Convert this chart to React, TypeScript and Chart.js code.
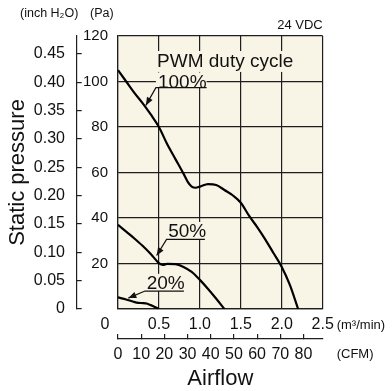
import React, { useEffect, useRef } from 'react';
import { Chart, registerables } from 'chart.js';

Chart.register(...registerables);

// ---- data (m³/min vs Pa) ----
const airflow100 = [0, 0.1, 0.2, 0.3, 0.4, 0.5, 0.6, 0.7, 0.8, 0.85, 0.9, 0.95, 1.0, 1.1, 1.2, 1.3, 1.4, 1.5, 1.6, 1.7, 1.8, 1.9, 2.0, 2.1, 2.2];
const pressure100 = [105, 100, 95, 90.5, 85.5, 80, 72.5, 66, 59.5, 56, 53.8, 53.3, 53.8, 54.9, 54.5, 52.3, 50, 46.7, 41, 36, 30.5, 24.5, 18.5, 10.5, 0];

const airflow50 = [0, 0.1, 0.2, 0.3, 0.4, 0.5, 0.55, 0.6, 0.7, 0.8, 0.9, 1.0, 1.1, 1.2, 1.3];
const pressure50 = [37, 34, 31, 27.8, 24.2, 20.2, 19.4, 19.8, 19.7, 18.5, 16.3, 12.8, 8.8, 4.5, 0];

const airflow20 = [0, 0.1, 0.19, 0.25, 0.3, 0.35, 0.4, 0.45, 0.5];
const pressure20 = [5.1, 4.2, 3.2, 2.7, 2.6, 2.4, 1.7, 0.9, 0];

const dutyLabels = ['100%', '50%', '20%'];
const headerText = 'PWM duty cycle';
const xUnitText = '(m³/min)';
const cfmUnitText = '(CFM)';
const yUnitInch = '(inch H₂O)';
const yUnitPa = '(Pa)';
const voltageText = '24 VDC';
const xTitle = 'Airflow';
const yTitle = 'Static pressure';

const PA_PER_INCH = 249.0889;
const M3MIN_PER_CFM = 0.0283168;
const X_MAX = 2.5;
const PA_MAX = 120;

// annotation layout (in data units)
const labelLayout = [
  { textX: 0.488, textY: 100, x0: 0.463, x1: 1.082, lineY: 97.3, tipX: 0.34, tipY: 89.5 },
  { textX: 0.613, textY: 34.3, x0: 0.593, x1: 1.061, lineY: 30.6, tipX: 0.472, tipY: 23.5 },
  { textX: 0.35, textY: 11.5, x0: 0.329, x1: 0.805, lineY: 7.9, tipX: 0.126, tipY: 4.8 },
];

const BG = '#f8f5e6';
const GRID = '#1e1e1e';
const INK = '#111111';
const NARROW = "'Liberation Sans Narrow', 'Arial Narrow', 'Liberation Sans', Arial, sans-serif";
const SANS = "'Liberation Sans', Arial, Helvetica, sans-serif";

const bgPlugin = {
  id: 'bgPlugin',
  beforeDraw(chart: any) {
    const { ctx, chartArea } = chart;
    ctx.save();
    ctx.fillStyle = BG;
    ctx.fillRect(chartArea.left, chartArea.top, chartArea.right - chartArea.left, chartArea.bottom - chartArea.top);
    ctx.restore();
  },
};

const annotationPlugin = {
  id: 'annotationPlugin',
  afterDatasetsDraw(chart: any) {
    const { ctx } = chart;
    const xs = chart.scales.x;
    const ys = chart.scales.y;
    const px = (v: number) => xs.getPixelForValue(v);
    const py = (v: number) => ys.getPixelForValue(v);
    ctx.save();

    // header box + text
    const hx = px(labelLayout[0].x0);
    ctx.fillStyle = BG;
    ctx.fillRect(hx, py(113.4), px(2.26) - hx, py(104.2) - py(113.4));
    ctx.fillStyle = INK;
    ctx.font = `19px ${SANS}`;
    ctx.textAlign = 'left';
    ctx.textBaseline = 'middle';
    ctx.fillText(headerText, px(0.477), py(109) + 1);

    labelLayout.forEach((l, i) => {
      const x0 = px(l.x0);
      const x1 = px(l.x1);
      const ty = py(l.textY);
      const ly = py(l.lineY);
      ctx.fillStyle = BG;
      ctx.fillRect(x0, ty - 9, x1 - x0, ly - (ty - 9));
      ctx.fillStyle = INK;
      ctx.font = `19px ${SANS}`;
      ctx.textAlign = 'left';
      ctx.textBaseline = 'middle';
      ctx.fillText(dutyLabels[i], px(l.textX), ty + 1);
      // underline + leader
      const tx = px(l.tipX);
      const tyy = py(l.tipY);
      ctx.strokeStyle = INK;
      ctx.lineWidth = 1.2;
      ctx.beginPath();
      ctx.moveTo(x1, ly);
      ctx.lineTo(x0, ly);
      ctx.lineTo(tx, tyy);
      ctx.stroke();
      // arrow head
      const ang = Math.atan2(tyy - ly, tx - x0);
      const len = 8;
      const hw = 3.2;
      const bx = tx - Math.cos(ang) * len;
      const by = tyy - Math.sin(ang) * len;
      ctx.beginPath();
      ctx.moveTo(tx, tyy);
      ctx.lineTo(bx + Math.sin(ang) * hw, by - Math.cos(ang) * hw);
      ctx.lineTo(bx - Math.sin(ang) * hw, by + Math.cos(ang) * hw);
      ctx.closePath();
      ctx.fillStyle = INK;
      ctx.fill();
    });
    ctx.restore();
  },
  afterDraw(chart: any) {
    const { ctx, chartArea } = chart;
    const xs = chart.scales.x;
    const ys = chart.scales.y;
    const cfm = chart.scales.cfm;
    ctx.save();
    ctx.fillStyle = INK;
    ctx.textBaseline = 'middle';
    // shared origin "0"
    ctx.font = `16px ${NARROW}`;
    ctx.textAlign = 'center';
    ctx.fillText('0', xs.getPixelForValue(0) - 13, ys.getPixelForValue(0) + 16);
    // units
    ctx.font = `13px ${SANS}`;
    ctx.textAlign = 'left';
    ctx.fillText(xUnitText, xs.getPixelForValue(X_MAX) + 14, ys.getPixelForValue(0) + 16);
    ctx.fillText(cfmUnitText, xs.getPixelForValue(X_MAX) + 14, cfm.top + 15);
    ctx.font = `12.5px ${SANS}`;
    ctx.fillText(yUnitInch, 20, 14);
    ctx.fillText(yUnitPa, 90, 14);
    ctx.font = `13px ${SANS}`;
    ctx.textAlign = 'right';
    ctx.fillText(voltageText, chartArea.right, chartArea.top - 10.5);
    ctx.restore();
  },
};

export default function App() {
  const ref = useRef<HTMLCanvasElement | null>(null);

  useEffect(() => {
    if (!ref.current) return;
    const mk = (xsArr: number[], ysArr: number[]) => xsArr.map((x, i) => ({ x, y: ysArr[i] }));
    const ds = (data: any) => ({
      data,
      borderColor: '#000',
      borderWidth: 2.2,
      pointRadius: 0,
      fill: false,
      cubicInterpolationMode: 'monotone' as const,
      xAxisID: 'x',
      yAxisID: 'y',
    });
    const tickFont = { family: NARROW, size: 16 };
    const chart = new Chart(ref.current, {
      type: 'line',
      data: {
        datasets: [
          ds(mk(airflow100, pressure100)),
          ds(mk(airflow50, pressure50)),
          ds(mk(airflow20, pressure20)),
        ],
      },
      options: {
        animation: false,
        responsive: false,
        devicePixelRatio: 1,
        maintainAspectRatio: false,
        layout: { padding: { left: 0, top: 36, right: 69.3, bottom: 0 } },
        plugins: { legend: { display: false }, tooltip: { enabled: false }, title: { display: false } },
        scales: {
          x: {
            type: 'linear',
            position: 'bottom',
            weight: 0,
            min: 0,
            max: X_MAX,
            grid: { color: GRID, lineWidth: 1.2, drawTicks: false },
            border: { display: true, color: GRID, width: 1.2 },
            ticks: {
              stepSize: 0.5,
              includeBounds: false,
              padding: 0,
              color: INK,
              font: { ...tickFont, lineHeight: '32px' },
              callback: (v: any) => (Number(v) === 0 ? '' : Number(v).toFixed(1)),
            },
            afterFit: (s: any) => { s.height = 30; },
          },
          cfm: {
            type: 'linear',
            position: 'bottom',
            weight: 1,
            min: 0,
            max: X_MAX / M3MIN_PER_CFM,
            grid: { drawOnChartArea: false, tickLength: -5, color: GRID, lineWidth: 1.2 },
            border: { display: true, color: GRID, width: 1.2 },
            ticks: {
              stepSize: 10,
              includeBounds: false,
              padding: 10.5,
              color: INK,
              font: tickFont,
              callback: (v: any) => String(Math.round(Number(v))),
            },
            title: { display: true, text: xTitle, color: INK, font: { family: SANS, size: 22 }, padding: { top: 0, bottom: -1.5 } },
            afterFit: (s: any) => { s.height = 52; },
          },
          y: {
            type: 'linear',
            position: 'left',
            weight: 0,
            min: 0,
            max: PA_MAX,
            grid: { color: GRID, lineWidth: 1.2, drawTicks: false },
            border: { display: true, color: GRID, width: 1.2 },
            ticks: {
              stepSize: 20,
              includeBounds: false,
              padding: 10,
              color: INK,
              font: { family: NARROW, size: 15 },
              callback: (v: any) => (Number(v) === 0 ? '' : String(v)),
            },
            afterFit: (s: any) => { s.width = 41.3; },
          },
          inch: {
            type: 'linear',
            position: 'left',
            weight: 1,
            min: 0,
            max: PA_MAX / PA_PER_INCH,
            grid: { drawOnChartArea: false, tickLength: -5, color: GRID, lineWidth: 1.2 },
            border: { display: true, color: GRID, width: 1.2 },
            ticks: {
              stepSize: 0.05,
              includeBounds: false,
              padding: 16.7,
              color: INK,
              font: tickFont,
              callback: (v: any) => (Number(v) === 0 ? '0' : Number(v).toFixed(2)),
            },
            title: { display: true, text: yTitle, color: INK, font: { family: SANS, size: 22 }, padding: { top: 4.3, bottom: 0 } },
            afterFit: (s: any) => { s.width = 76.7; },
          },
        },
      } as any,
      plugins: [bgPlugin, annotationPlugin],
    });
    return () => chart.destroy();
  }, []);

  return (
    <div style={{ position: 'fixed', left: 0, top: 0, width: 392, height: 391, background: '#fff' }}>
      <canvas ref={ref} width={392} height={391} style={{ display: 'block', width: 392, height: 391 }} />
    </div>
  );
}
